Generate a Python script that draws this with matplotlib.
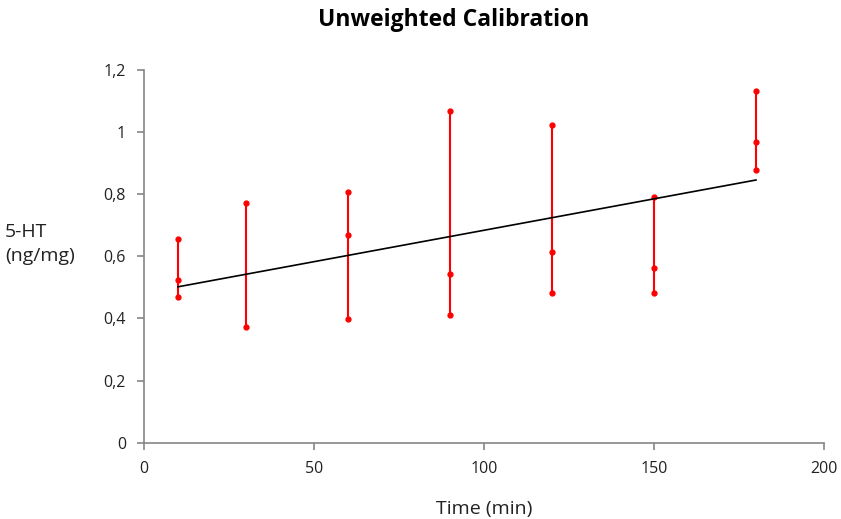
import numpy as np
import matplotlib
matplotlib.use("Agg")
import matplotlib.pyplot as plt
from matplotlib.ticker import FuncFormatter

# measured replicates per time point
times = [10, 30, 60, 90, 120, 150, 180]
replicates = [
    [0.655, 0.524, 0.468],
    [0.771, 0.372],
    [0.807, 0.670, 0.397],
    [1.069, 0.543, 0.411],
    [1.023, 0.614, 0.483],
    [0.792, 0.563, 0.483],
    [1.133, 0.967, 0.877],
]

# calibration line endpoints
fit_x = [10, 180]
fit_y = [0.502, 0.846]

plt.rcParams.update({
    "font.family": ["Open Sans", "DejaVu Sans"],
    "figure.facecolor": "white",
})

fig = plt.figure(figsize=(8.41, 5.19), dpi=100)
ax = fig.add_axes([0.1712, 0.147, 0.8086, 0.718])

for t, vals in zip(times, replicates):
    ax.plot([t] * len(vals), vals, "-o", color="#ff0000", lw=1.5, ms=3.5, zorder=3)

ax.plot(fit_x, fit_y, "-", color="black", lw=1.2, zorder=4)

ax.set_xlim(0, 200)
ax.set_ylim(0, 1.2)
ax.set_xticks([0, 50, 100, 150, 200])
ax.set_yticks(np.arange(0, 1.21, 0.2))
ax.yaxis.set_major_formatter(FuncFormatter(
    lambda v, _: "0" if abs(v) < 1e-9 else ("1" if abs(v - 1) < 1e-9 else f"{v:.1f}".replace(".", ","))))

for s in ["top", "right"]:
    ax.spines[s].set_visible(False)
for s in ["left", "bottom"]:
    ax.spines[s].set_color("#868686")
    ax.spines[s].set_linewidth(1.2)
ax.tick_params(axis="both", direction="out", length=5, width=1.2, color="#868686",
               labelsize=11.5, labelcolor="#222222")
ax.tick_params(axis="y", pad=8)
ax.tick_params(axis="x", pad=8)

ax.set_xlabel("Time (min)", fontsize=14, labelpad=17, color="#222222")
fig.text(0.006, 0.53, "5-HT\n(ng/mg)", fontsize=14, ha="left", va="center",
         linespacing=1.45, color="#222222")
fig.suptitle("Unweighted Calibration", fontsize=16.5, fontweight="bold", x=0.54, y=0.984)

fig.savefig("out.png", dpi=100)
